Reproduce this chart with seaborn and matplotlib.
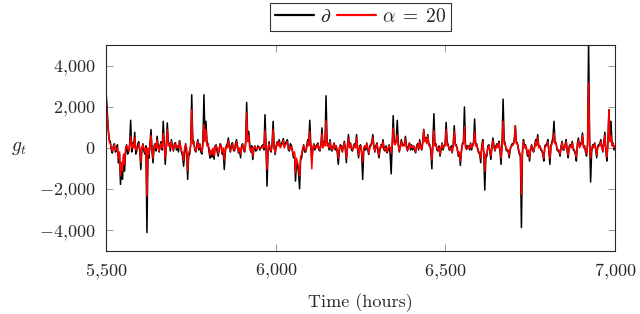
import numpy as np
import pandas as pd
import matplotlib
matplotlib.use("Agg")
import matplotlib.pyplot as plt
from matplotlib.ticker import FuncFormatter
import seaborn as sns

# hours sampled every 3 h between 5,500 and 7,000
hours = np.arange(5500, 7001, 3)

# black series (partial), one row = 60 hours
g_partial = [
    2600, 1800, 900, 400, 300, -100, -250, 100, 200, -200, -150, 150, -730, -300, -1770, -900, -1530, -400, -1130, -200,
    150, -300, -200, 200, 1340, -200, 250, 100, 760, -300, -150, 200, 300, -200, -1050, -100, 200, -150, -300, 100,
    -4110, -300, -500, 200, 890, -200, -730, 100, 200, -150, 565, 100, -200, 150, 300, -100, 1290, 200, -800, 100,
    1210, 300, 200, -150, 400, 100, -150, 200, 250, -100, 100, -200, 350, 100, -200, -400, -890, -300, 200, -200,
    -1530, -400, -300, 200, 2580, 400, 300, -100, -200, 150, 400, -100, 200, -200, -300, 300, 2580, 600, 1290, 300,
    200, -200, -500, -300, -450, -100, -550, 100, 150, -200, -400, -100, 200, 100, -300, -200, -1050, -200, 100, 200,
    480, 100, -200, 150, 250, -100, -150, 200, 400, 100, -250, -100, -480, 100, 200, -100, -200, 300, 2210, 500,
    800, 200, -200, 100, -565, -100, 100, -150, -100, 100, 50, -100, 0, 100, 150, -100, 1610, 200, -1855, -200,
    300, -100, -200, 200, 1290, 100, -320, 100, 300, 150, 400, 100, 150, 300, 450, 100, 200, 300, 400, -100,
    -150, 200, 100, -200, -480, -300, -1610, -700, -900, -1200, -1985, -600, -480, -100, 150, -200, -200, 100, 400, 200,
    1340, 200, -600, -100, 200, -100, 100, 150, 240, -100, -150, 200, 970, 100, 300, 200, 2530, 300, 200, -100,
    400, -100, -150, 100, 240, -100, 100, -200, -800, -200, 150, 100, -200, 100, 320, -100, -720, 100, 645, 100,
    240, -100, -150, 100, 200, 100, 645, -100, -480, 100, 150, -300, -1530, -200, 100, -100, 240, -100, -320, 100,
    150, 300, 645, 100, -200, 100, 240, -200, -480, -100, 150, 100, 400, -100, -150, 100, -240, -100, 150, -300,
    -1260, 200, 1565, 300, 200, 400, 1340, 200, -200, 100, 400, 150, 150, 200, 560, 100, -150, 100, 240, -100,
    150, -100, 100, -100, -240, 100, 200, -100, 400, 100, -100, 300, 900, 400, 500, 300, 645, 200, 150, -200,
    -1015, 300, 1660, 200, 200, -100, -150, 100, -400, -100, 240, -100, 100, 200, 1240, 300, 160, -100, -100, 100,
    -240, 200, 1080, 200, 150, -100, -400, -300, -855, -200, 200, 300, 1985, 200, -80, 100, 100, -100, 240, -100,
    100, 300, 1400, 200, 200, -100, -240, -300, -720, 100, 400, -300, -2050, -500, -400, 100, 150, -200, -560, 100,
    480, 100, -150, 100, 200, 100, 320, -200, -800, 300, 2370, 400, 200, -100, -150, -200, -480, -100, 100, 200,
    200, 400, 1080, 300, 240, -100, -300, -400, -3870, -300, 400, 100, 150, -100, -400, -200, -640, -100, 150, -100,
    -200, 100, 400, 200, 645, 100, 100, -100, -150, -300, -640, 100, 150, 200, 400, -200, -800, 100, 300, 500,
    1290, 300, 240, -100, -150, -200, -400, 100, 320, -100, -100, 200, 400, -200, -480, 100, 150, 100, 320, -100,
    -150, -300, -640, 200, 480, 100, 150, 300, 725, 100, 100, -200, -400, 200, 5200, 500, -1660, -200, 150, 100,
    240, -100, -480, 100, 150, 200, 400, 100, -200, 300, 760, -200, -640, 300, 1855, 600, 1290, 200, 240, -100,
    100,
]

# red series (alpha = 20), one row = 60 hours
g_alpha20 = [
    2300, 1500, 800, 300, 200, 0, -150, 0, 150, -100, -100, 0, -500, -200, -1370, -700, -1100, -300, -800, 0,
    100, 0, -150, 100, 565, 0, 200, 0, 500, -100, -100, 0, 200, 0, -700, 0, 150, 0, -200, 0,
    -2340, 0, -300, 100, 600, 0, -500, 0, 150, 0, 400, 0, -150, 100, 200, 0, 700, 100, -500, 0,
    900, 100, 150, 0, 300, 0, -100, 100, 200, 0, 80, 0, 300, 0, -150, -200, -600, 0, 150, 0,
    -1100, -200, -200, 100, 1855, 200, 250, 0, -150, 0, 300, 0, 150, 0, -200, 100, 1130, 300, 900, 100,
    150, 0, -350, -100, -300, 0, -400, 0, 100, 0, -300, 0, 150, 0, -200, 0, -600, 0, 80, 0,
    350, 0, -150, 0, 200, 0, -100, 0, 300, 0, -200, 0, -300, 0, 150, 0, -150, 100, 1690, 300,
    600, 0, -150, 0, -400, 0, 80, 0, -80, 0, 40, 0, 0, 0, 100, 0, 850, 0, -1050, 0,
    200, 0, -150, 100, 900, 0, -250, 0, 250, 100, 300, 0, 100, 200, 350, 0, 150, 200, 300, 0,
    -100, 0, 80, -100, -400, -200, -1200, -500, -700, -900, -1370, -400, -350, 0, 100, 0, -150, 0, 300, 100,
    800, 0, -1015, 0, 150, 0, 80, 0, 200, 0, -100, 100, 700, 0, 250, 100, 1340, 100, 150, 0,
    300, 0, -100, 0, 200, 0, 80, -100, -500, 0, 100, 0, -150, 0, 250, 0, -500, 0, 450, 0,
    200, 0, -100, 0, 150, 0, 500, 0, -350, 0, 100, -200, -700, 0, 80, 0, 200, 0, -250, 0,
    100, 200, 500, 0, -150, 0, 200, 0, -350, 0, 100, 0, 300, 0, -100, 0, -200, 0, 100, 0,
    -240, 100, 970, 200, 150, 300, 640, 100, -150, 0, 300, 100, 100, 100, 450, 0, -100, 0, 200, 0,
    100, 0, 80, 0, -200, 0, 150, 0, 300, 0, -80, 200, 855, 300, 450, 200, 600, 100, 100, 0,
    -600, 100, 850, 100, 150, 0, -100, 0, -300, 0, 200, 0, 80, 100, 900, 100, 120, 0, -80, 0,
    -200, 100, 800, 100, 100, 0, -300, -200, -650, -100, 150, 200, 1050, 0, -60, 0, 80, 0, 200, 0,
    80, 200, 800, 100, 150, 0, -200, -200, -500, 0, 300, -200, -1130, -300, -300, 0, 100, -100, -400, 0,
    350, 0, -100, 0, 150, 0, 250, -100, -500, 100, 1290, 200, 150, 0, -100, -100, -350, 0, 80, 100,
    150, 300, 1080, 200, 200, 0, -200, -300, -2260, -100, 300, 0, 100, 0, -300, -100, -500, 0, 100, 0,
    -150, 0, 300, 100, 500, 0, 80, 0, -100, -200, -500, 0, 100, 100, 300, -100, -500, 0, 200, 300,
    720, 200, 200, 0, -100, -100, -300, 0, 250, 0, -80, 100, 300, -100, -350, 0, 100, 0, 250, 0,
    -100, -200, -450, 100, 350, 0, 100, 200, 600, 0, 80, -100, -300, 100, 3145, 200, -500, 0, 100, 0,
    200, 0, -350, 0, 100, 100, 300, 0, -150, 200, 600, -100, -450, 200, 1855, 300, 600, 100, 200, 0,
    80,
]

series_names = [r"$\partial$", r"$\alpha\;=\;20$"]
series_colors = ["black", "red"]

df = pd.concat([
    pd.DataFrame({"hour": hours, "g": g_partial, "series": series_names[0]}),
    pd.DataFrame({"hour": hours, "g": g_alpha20, "series": series_names[1]}),
])

sns.set_style("ticks")
plt.rcParams["font.family"] = "serif"
plt.rcParams["font.serif"] = ["cmr10", "DejaVu Serif"]
plt.rcParams["mathtext.fontset"] = "cm"
plt.rcParams["axes.formatter.use_mathtext"] = True

fig = plt.figure(figsize=(6.4, 3.14), dpi=100)
ax = fig.add_axes([0.166, 0.201, 0.795, 0.656])

sns.lineplot(data=df, x="hour", y="g", hue="series", palette=series_colors,
             estimator=None, sort=False, linewidth=1.1, ax=ax)

ax.set_xlim(5500, 7000)
ax.set_ylim(-5000, 5000)
ax.set_xticks([5500, 6000, 6500, 7000])
ax.set_yticks([-4000, -2000, 0, 2000, 4000])
fmt = FuncFormatter(lambda v, p: "$" + f"{v:,.0f}".replace(",", "{,}") + "$")
ax.xaxis.set_major_formatter(fmt)
ax.yaxis.set_major_formatter(fmt)
ax.tick_params(direction="in", length=5, width=0.6, color="#888888",
               top=True, right=True, labelsize=13, pad=8)
for s in ax.spines.values():
    s.set_linewidth(0.8)

ax.set_xlabel("Time (hours)", fontsize=13, labelpad=8)
ax.set_ylabel("$g_t$", fontsize=14, rotation=0, labelpad=14, va="center")

handles, labels = ax.get_legend_handles_labels()
leg = ax.legend(handles, labels, loc="lower center", bbox_to_anchor=(0.5, 1.02),
                ncol=2, frameon=True, fancybox=False, edgecolor="black",
                fontsize=14, handlelength=2.0, handletextpad=0.3,
                columnspacing=0.3, borderpad=0.25)
leg.get_frame().set_linewidth(0.8)
for h in leg.get_lines():
    h.set_linewidth(1.6)

fig.savefig("out.png", dpi=100)
